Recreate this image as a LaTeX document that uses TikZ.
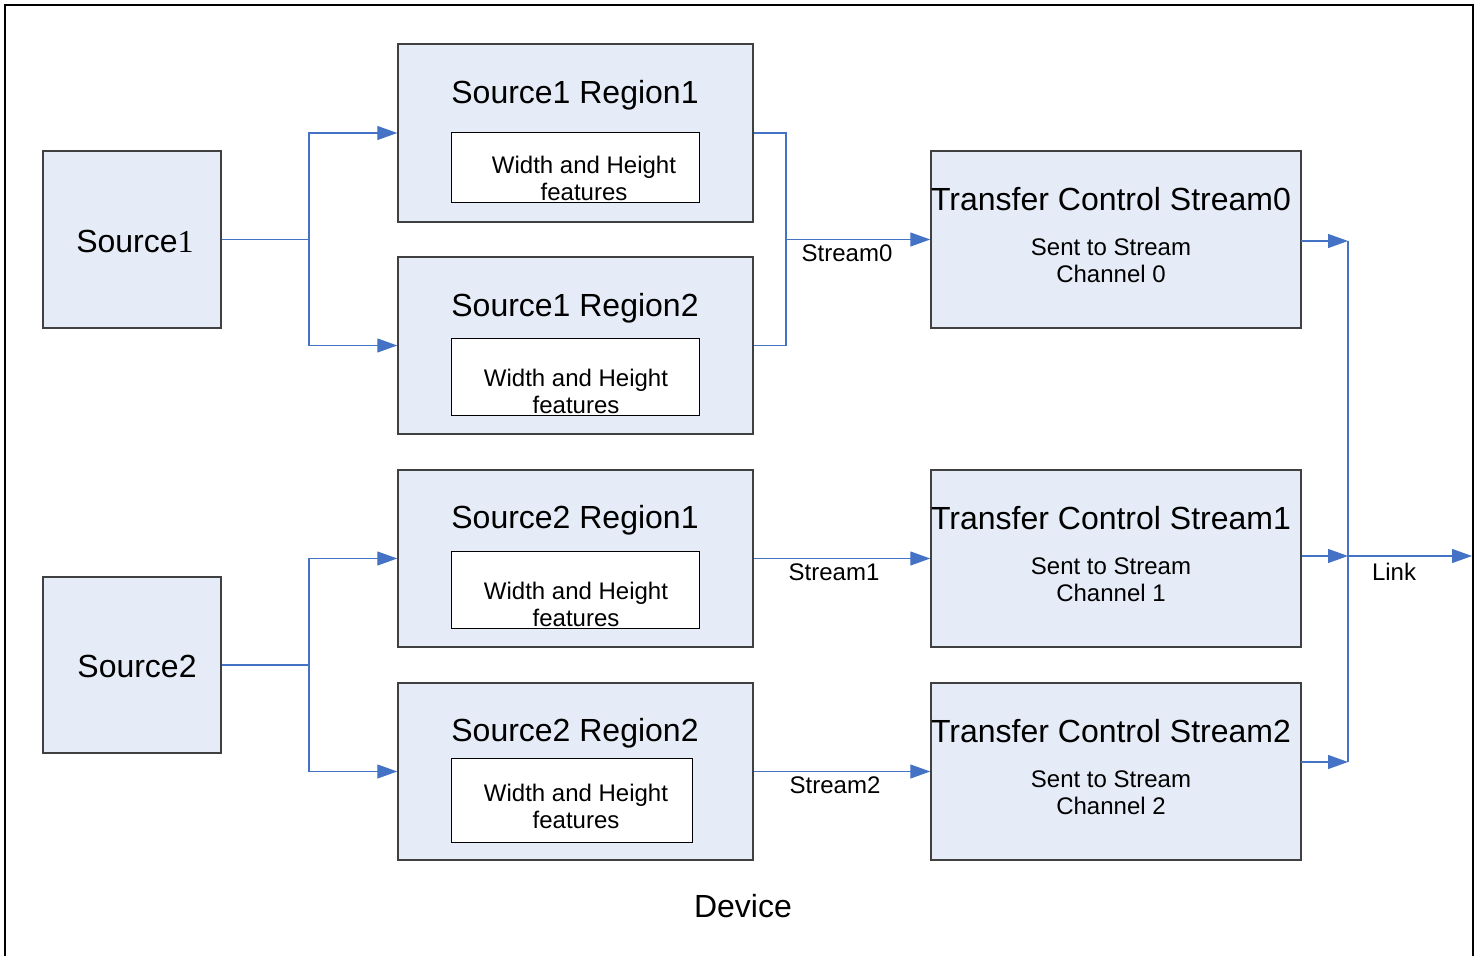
\documentclass[tikz,border=0pt]{standalone}
\usepackage{fontspec}
\setmainfont{Liberation Sans}
\newfontfamily\serifone{Liberation Serif}
\usetikzlibrary{arrows.meta}
\definecolor{boxfill}{RGB}{230,236,247}
\definecolor{boxline}{RGB}{64,64,64}
\definecolor{conblue}{RGB}{68,114,196}
\tikzset{
  blk/.style={draw=boxline, line width=0.75pt, fill=boxfill, inner sep=0pt},
  inbox/.style={draw=black, line width=0.5pt, fill=white, inner sep=0pt},
  big/.style={font=\fontsize{16}{19}\selectfont, inner sep=0pt},
  small/.style={font=\fontsize{12}{13.5}\selectfont, align=center, inner sep=0pt},
  conn/.style={draw=conblue, line width=0.6pt},
  arr/.style={conn, -{Triangle[length=10pt,width=7pt]}},
}
\begin{document}
\begin{tikzpicture}[x=0.5pt,y=-0.5pt]
\useasboundingbox (0,0) rectangle (1483,956);
\draw[line width=1.2pt, black] (5,960) -- (5,5) -- (1473,5) -- (1473,960);

% sources
\node[blk, minimum width=89pt, minimum height=88.5pt] (s1) at (132,239.5) {};
\node[big] (s1t) at (135,241) {Source{\serifone 1}};
\node[blk, minimum width=89pt, minimum height=88pt] (s2) at (132,665) {};
\node[big] (s2t) at (137,666) {Source2};

% regions
\node[blk, minimum width=177.5pt, minimum height=89pt] (r11) at (575.5,133) {};
\node[blk, minimum width=177.5pt, minimum height=88.5pt] (r12) at (575.5,345.5) {};
\node[blk, minimum width=177.5pt, minimum height=88.5pt] (r21) at (575.5,558.5) {};
\node[blk, minimum width=177.5pt, minimum height=88.5pt] (r22) at (575.5,771.5) {};

\node[big] (r11t) at (575,95) {Source1 Region1};
\node[big] (r12t) at (575,308) {Source1 Region2};
\node[big] (r21t) at (575,520) {Source2 Region1};
\node[big] (r22t) at (575,733) {Source2 Region2};

\node[inbox, minimum width=124pt, minimum height=35pt] (i11) at (575,168) {};
\node[inbox, minimum width=124pt, minimum height=38.5pt] (i12) at (575,377.5) {};
\node[inbox, minimum width=124pt, minimum height=38.5pt] (i21) at (575,590.5) {};
\node[inbox, minimum width=120.5pt, minimum height=42pt] (i22) at (571.5,800) {};

\node[small] (i11t) at (584,178) {Width and Height\\features};
\node[small] (i12t) at (576,391) {Width and Height\\features};
\node[small] (i21t) at (576,604) {Width and Height\\features};
\node[small] (i22t) at (576,806) {Width and Height\\features};

% transfer control
\node[blk, minimum width=185pt, minimum height=88.5pt] (tc0) at (1116,239.5) {};
\node[blk, minimum width=185pt, minimum height=88.5pt] (tc1) at (1116,558.5) {};
\node[blk, minimum width=185pt, minimum height=88.5pt] (tc2) at (1116,771.5) {};

\node[big] (tc0t) at (1111,199) {Transfer Control Stream0};
\node[big] (tc1t) at (1111,518) {Transfer Control Stream1};
\node[big] (tc2t) at (1111,731) {Transfer Control Stream2};
\node[small] (tc0s) at (1111,261) {Sent to Stream\\Channel 0};
\node[small] (tc1s) at (1111,580) {Sent to Stream\\Channel 1};
\node[small] (tc2s) at (1111,793) {Sent to Stream\\Channel 2};

% connectors
\coordinate (j1) at (309,239.5);
\coordinate (j2) at (309,665);
\coordinate (m0) at (786,239.5);
\coordinate (lk) at (1348,556);
\coordinate (out) at (1472,556);
\coordinate (t0) at (1301,241);
\coordinate (t2) at (1301,762);

\draw[conn] (s1.east) -- (j1);
\draw[arr] (j1) |- (r11.west);
\draw[arr] (j1) |- (r12.west);
\draw[conn] (s2.east) -- (j2);
\draw[arr] (j2) |- (r21.west);
\draw[arr] (j2) |- (r22.west);

\draw[conn] (r11.east) -| (m0) |- (r12.east);
\draw[arr] (m0) -- (tc0.west);
\draw[arr] (r21.east) -- (tc1.west);
\draw[arr] (r22.east) -- (tc2.west);

\node[small] (l0) at (847,253) {Stream0};
\node[small] (l1) at (834,572) {Stream1};
\node[small] (l2) at (835,785) {Stream2};

\draw[arr] (t0) -- (t0 -| lk);
\draw[arr] (tc1.east |- lk) -- (lk);
\draw[arr] (t2) -- (t2 -| lk);
\draw[conn] (t0 -| lk) -- (t2 -| lk);
\draw[arr] (lk) -- (out);
\node[small] (lkt) at (1394,572) {Link};

\node[big] (dev) at (743,906) {Device};
\end{tikzpicture}
\end{document}
